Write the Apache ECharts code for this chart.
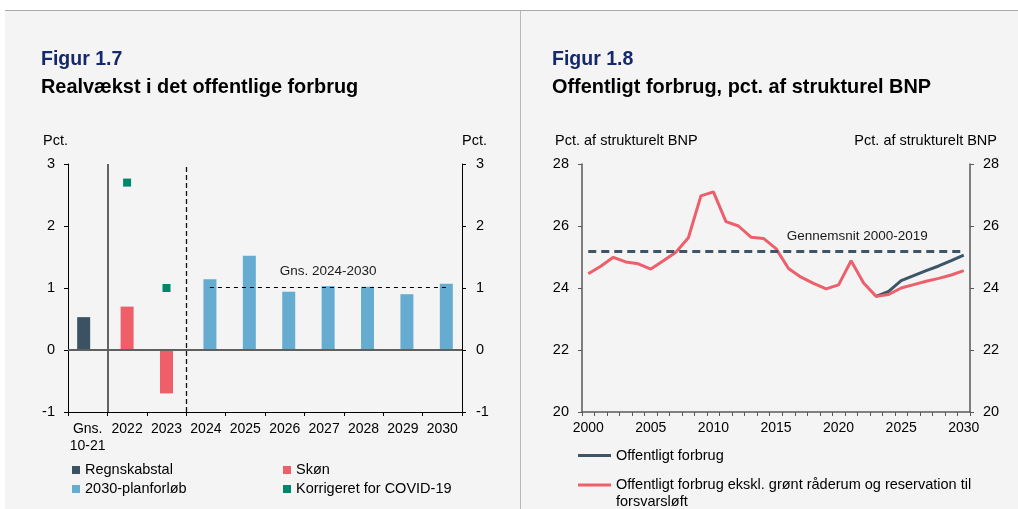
<!DOCTYPE html>
<html><head><meta charset="utf-8">
<script src="https://cdn.jsdelivr.net/npm/echarts@6/dist/echarts.min.js"></script>
<style>
html,body{margin:0;padding:0;background:#fff;}
#wrap{position:relative;width:1018px;height:509px;overflow:hidden;}
#panel{position:absolute;left:5px;top:10px;width:1013px;height:499px;background:#f4f4f4;border-top:1px solid #a9a9a9;box-sizing:border-box;}
#divider{position:absolute;left:520px;top:11px;width:1px;height:498px;background:#b8b8b8;}
#chart{position:absolute;left:0;top:0;width:1018px;height:509px;}
</style></head><body>
<div id="wrap"><div id="panel"></div><div id="divider"></div><div id="chart"></div></div>
<script>
// ---- Figur 1.7 data ----
const catsL = ['Gns.\n10-21', '2022', '2023', '2024', '2025', '2026', '2027', '2028', '2029', '2030'];
const regnskabstal = [0.53, null, null, null, null, null, null, null, null, null];
const skon = [null, 0.70, -0.70, null, null, null, null, null, null, null];
const planforlob = [null, null, null, 1.14, 1.52, 0.94, 1.03, 1.02, 0.90, 1.07];
const covid = [null, 2.7, 1.0, null, null, null, null, null, null, null];
const gnsPlan = 1.02;
const gnsPlanFrom = '2024';
const gnsPlanTo = '2030';
const ticksL = [-1, 0, 1, 2, 3];

// ---- Figur 1.8 data ----
const years = ['2000','2001','2002','2003','2004','2005','2006','2007','2008','2009','2010',
  '2011','2012','2013','2014','2015','2016','2017','2018','2019','2020',
  '2021','2022','2023','2024','2025','2026','2027','2028','2029','2030'];
const forbrug = [null, null, null, null, null, null, null, null, null, null, null,
  null, null, null, null, null, null, null, null, null, null,
  null, null, 23.73, 23.89, 24.24, 24.40, 24.56, 24.71, 24.88, 25.06];
const ekskl = [24.46, 24.70, 24.99, 24.84, 24.78, 24.61, 24.88, 25.15, 25.62, 26.97, 27.10,
  26.14, 26.00, 25.64, 25.60, 25.27, 24.63, 24.35, 24.15, 23.97, 24.10,
  24.88, 24.16, 23.73, 23.79, 24.00, 24.11, 24.22, 24.31, 24.42, 24.56];
const gnsHist = 25.2;
const ticksR = [20, 22, 24, 26, 28];

const FONT = "'Liberation Sans', Arial, sans-serif";
const nameEkskl = 'Offentligt forbrug ekskl. grønt råderum og reservation til forsvarsløft';

const titleText = (text, left, top, color, size) => ({
  text, left, top, padding: 0,
  textStyle: {fontFamily: FONT, fontSize: size, fontWeight: 'bold', color, lineHeight: 22}
});
const unitTitle = (text, pos, top) => Object.assign({
  text, top, padding: 0,
  textStyle: {fontFamily: FONT, fontSize: 14.5, fontWeight: 'normal', color: '#000', lineHeight: 17}
}, pos);

const chart = echarts.init(document.getElementById('chart'), null, {renderer: 'canvas'});
const legendText = {fontFamily: FONT, fontSize: 14.5, color: '#000', lineHeight: 17};

const option = {
  animation: false,
  textStyle: {fontFamily: FONT, color: '#000'},
  title: [
    titleText('Figur 1.7', 41, 49, '#14286e', 19.5),
    titleText('Realvækst i det offentlige forbrug', 41, 77, '#000', 19.9),
    titleText('Figur 1.8', 552, 49, '#14286e', 19.5),
    titleText('Offentligt forbrug, pct. af strukturel BNP', 552, 77, '#000', 19.9),
    unitTitle('Pct.', {left: 43}, 132),
    unitTitle('Pct.', {left: 462}, 132),
    unitTitle('Pct. af strukturelt BNP', {left: 555}, 132),
    unitTitle('Pct. af strukturelt BNP', {right: 21}, 132)
  ],
  grid: [
    {left: 68, right: 556, top: 164, bottom: 97, containLabel: false, outerBoundsMode: 'none'},
    {left: 582, right: 48, top: 164, bottom: 97, containLabel: false, outerBoundsMode: 'none'}
  ],
  legend: [
    {data: ['Regnskabstal', '2030-planforløb'], orient: 'vertical', left: 72, top: 461.5,
     itemWidth: 8, itemHeight: 8, icon: 'rect', itemGap: 2, padding: 0, selectedMode: false, textStyle: legendText},
    {data: ['Skøn', 'Korrigeret for COVID-19'], orient: 'vertical', left: 283, top: 461.5,
     itemWidth: 8, itemHeight: 8, icon: 'rect', itemGap: 2, padding: 0, selectedMode: false, textStyle: legendText},
    {data: ['Offentligt forbrug'], orient: 'vertical', left: 578, top: 447,
     itemWidth: 33, itemHeight: 3, icon: 'rect', padding: 0, selectedMode: false, textStyle: legendText},
    {data: [nameEkskl], orient: 'vertical', left: 578, top: 459.5,
     itemWidth: 33, itemHeight: 3, icon: 'rect', padding: 0, selectedMode: false,
     formatter: (n) => '\n' + n,
     textStyle: Object.assign({}, legendText, {width: 385, overflow: 'break'})}
  ],
  xAxis: [
    {gridIndex: 0, type: 'category', data: catsL, position: 'bottom',
     axisLine: {onZero: false, lineStyle: {color: '#000', width: 1}},
     axisTick: {show: true, interval: 0, length: 4, lineStyle: {color: '#000'}},
     axisLabel: {interval: 0, margin: 9, fontSize: 14, lineHeight: 17, color: '#000', fontFamily: FONT},
     splitLine: {show: false}},
    {gridIndex: 0, type: 'value', min: 0, max: catsL.length, show: false},
    {gridIndex: 1, type: 'category', data: years, position: 'bottom',
     axisLine: {onZero: false, lineStyle: {color: '#595959', width: 1.5}},
     axisTick: {show: true, interval: 0, length: 4, lineStyle: {color: '#595959'}},
     axisLabel: {interval: 4, margin: 9, fontSize: 14, color: '#000', fontFamily: FONT},
     splitLine: {show: false}}
  ],
  yAxis: [
    {gridIndex: 0, type: 'value', min: ticksL[0], max: ticksL[ticksL.length - 1], interval: 1, position: 'left',
     axisLine: {show: true, lineStyle: {color: '#000'}},
     axisTick: {show: true, length: 4, lineStyle: {color: '#000'}},
     axisLabel: {margin: 13, fontSize: 14.5, color: '#000', fontFamily: FONT}, splitLine: {show: false}},
    {gridIndex: 0, type: 'value', min: ticksL[0], max: ticksL[ticksL.length - 1], interval: 1, position: 'right',
     axisLine: {show: true, lineStyle: {color: '#000'}},
     axisTick: {show: true, length: 4, lineStyle: {color: '#000'}},
     axisLabel: {margin: 14, fontSize: 14.5, color: '#000', fontFamily: FONT}, splitLine: {show: false}},
    {gridIndex: 1, type: 'value', min: ticksR[0], max: ticksR[ticksR.length - 1], interval: 2, position: 'left',
     axisLine: {show: true, lineStyle: {color: '#595959', width: 1.5}},
     axisTick: {show: true, length: 4, lineStyle: {color: '#595959'}},
     axisLabel: {margin: 13, fontSize: 14.5, color: '#000', fontFamily: FONT}, splitLine: {show: false}},
    {gridIndex: 1, type: 'value', min: ticksR[0], max: ticksR[ticksR.length - 1], interval: 2, position: 'right',
     axisLine: {show: true, lineStyle: {color: '#595959', width: 1.5}},
     axisTick: {show: true, length: 4, lineStyle: {color: '#595959'}},
     axisLabel: {margin: 13, fontSize: 14.5, color: '#000', fontFamily: FONT}, splitLine: {show: false}}
  ],
  series: [
    {name: 'separators', type: 'line', xAxisIndex: 1, yAxisIndex: 0, data: [], symbol: 'none',
     markLine: {silent: true, symbol: ['none', 'none'], label: {show: false},
       data: [
         {xAxis: catsL.indexOf('2022'), lineStyle: {color: '#333', width: 1.5, type: 'solid'}},
         {xAxis: catsL.indexOf('2024'), lineStyle: {color: '#111', width: 1.3, type: [5, 3]}}
       ]}},
    {name: 'Regnskabstal', type: 'bar', xAxisIndex: 0, yAxisIndex: 0, data: regnskabstal,
     barWidth: 13, barGap: '-69%', itemStyle: {color: '#3b5262'},
     markLine: {silent: true, symbol: ['none', 'none'], label: {show: false},
       lineStyle: {color: '#5f5f5f', width: 2, type: 'solid'}, data: [{yAxis: 0}]}},
    {name: 'Skøn', type: 'bar', xAxisIndex: 0, yAxisIndex: 0, data: skon,
     barWidth: 13, barGap: '-69%', itemStyle: {color: '#ef5f6a'}},
    {name: '2030-planforløb', type: 'bar', xAxisIndex: 0, yAxisIndex: 0, data: planforlob,
     barWidth: 13, barGap: '-69%', itemStyle: {color: '#66acd0'},
     markLine: {silent: true, symbol: ['none', 'none'],
       lineStyle: {color: '#000', width: 1, type: [4, 4]},
       label: {show: true, position: 'middle', formatter: 'Gns. 2024-2030', fontSize: 13.5, color: '#1a1a1a', fontFamily: FONT, distance: 8},
       data: [[{coord: [gnsPlanFrom, gnsPlan]}, {coord: [gnsPlanTo, gnsPlan]}]]}},
    {name: 'Korrigeret for COVID-19', type: 'scatter', xAxisIndex: 0, yAxisIndex: 0, data: covid,
     symbol: 'rect', symbolSize: 8, itemStyle: {color: '#00876b', opacity: 1}},
    {name: 'Offentligt forbrug', type: 'line', xAxisIndex: 2, yAxisIndex: 2, data: forbrug,
     symbol: 'none', showSymbol: false, lineStyle: {width: 3, color: '#3d5566'}, itemStyle: {color: '#3d5566'},
     markLine: {silent: true, symbol: ['none', 'none'],
       lineStyle: {color: '#3d5566', width: 3, type: [8, 5]},
       label: {show: true, position: 'insideEndTop', formatter: 'Gennemsnit 2000-2019', fontSize: 13.5, color: '#1a1a1a', fontFamily: FONT, distance: [36, 8]},
       data: [[{coord: [years[0], gnsHist]}, {coord: [years[years.length - 1], gnsHist]}]]}},
    {name: nameEkskl, type: 'line', xAxisIndex: 2, yAxisIndex: 2, data: ekskl,
     symbol: 'none', showSymbol: false, lineStyle: {width: 3, color: '#ec5f6b'}, itemStyle: {color: '#ec5f6b'}}
  ]
};
chart.setOption(option);
</script>
</body></html>
